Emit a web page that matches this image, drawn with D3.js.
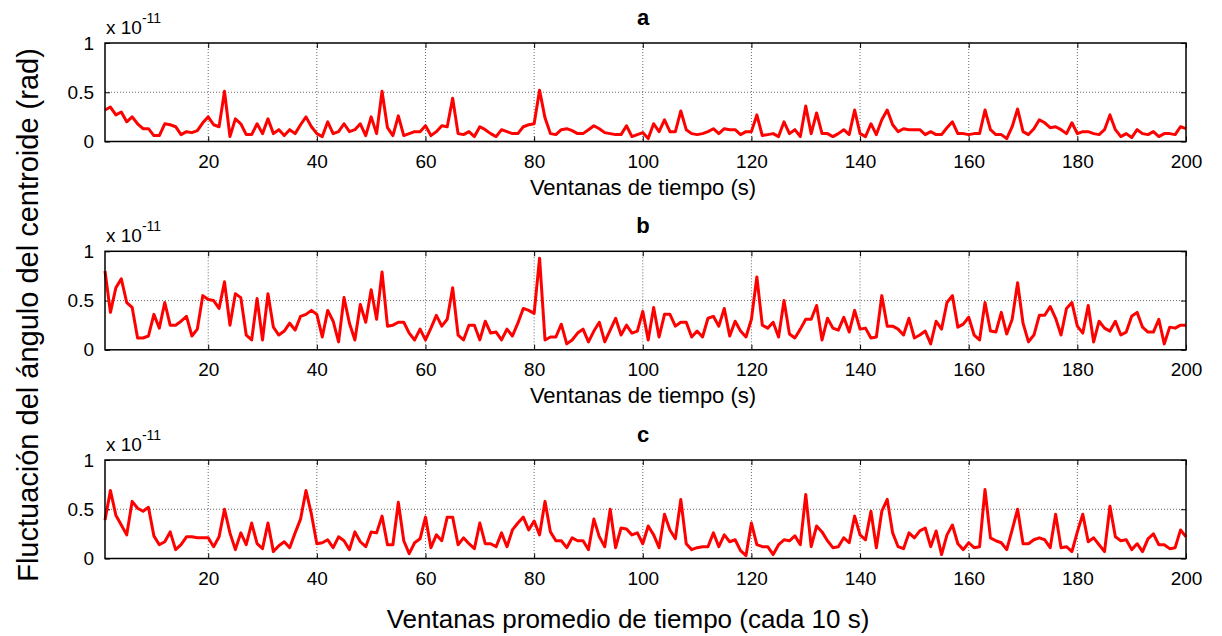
<!DOCTYPE html>
<html>
<head>
<meta charset="utf-8">
<script src="https://cdn.jsdelivr.net/npm/d3@7"></script>
<style>
  html, body { margin: 0; padding: 0; background: #fff; }
  svg { display: block; font-family: "Liberation Sans", Arial, sans-serif; }
</style>
</head>
<body>
<div id="chart"></div>
<script>
// Serie a (valores x 1e-11 rad)
const aValues = [
  0.32,0.35,0.27,0.30,0.20,0.25,0.18,0.13,0.13,0.06,
  0.06,0.18,0.17,0.15,0.07,0.10,0.09,0.11,0.19,0.25,
  0.17,0.15,0.51,0.05,0.23,0.18,0.07,0.07,0.18,0.08,
  0.23,0.08,0.12,0.06,0.12,0.08,0.17,0.25,0.15,0.08,
  0.05,0.20,0.08,0.10,0.18,0.10,0.12,0.18,0.06,0.25,
  0.08,0.51,0.14,0.06,0.26,0.06,0.08,0.10,0.10,0.16,
  0.06,0.10,0.16,0.15,0.44,0.08,0.07,0.10,0.05,0.15,
  0.12,0.08,0.05,0.12,0.10,0.08,0.08,0.15,0.17,0.18,
  0.52,0.24,0.08,0.07,0.12,0.13,0.11,0.08,0.08,0.12,
  0.16,0.13,0.09,0.08,0.07,0.07,0.16,0.05,0.07,0.09,
  0.03,0.18,0.10,0.22,0.10,0.10,0.31,0.12,0.08,0.07,
  0.08,0.10,0.13,0.08,0.13,0.12,0.12,0.07,0.10,0.10,
  0.27,0.06,0.07,0.08,0.05,0.20,0.08,0.12,0.05,0.36,
  0.08,0.29,0.08,0.08,0.05,0.08,0.12,0.07,0.32,0.08,
  0.05,0.18,0.07,0.22,0.32,0.17,0.10,0.13,0.12,0.12,
  0.12,0.07,0.10,0.07,0.07,0.14,0.20,0.08,0.08,0.07,
  0.08,0.08,0.32,0.12,0.07,0.07,0.03,0.15,0.33,0.10,
  0.07,0.13,0.22,0.19,0.14,0.15,0.12,0.08,0.19,0.08,
  0.10,0.10,0.08,0.07,0.12,0.27,0.12,0.05,0.08,0.04,
  0.12,0.08,0.07,0.10,0.05,0.08,0.08,0.07,0.15,0.13
];

// Serie b
const bValues = [
  0.80,0.38,0.63,0.72,0.48,0.43,0.12,0.12,0.14,0.36,
  0.22,0.48,0.25,0.25,0.29,0.34,0.14,0.21,0.55,0.51,
  0.50,0.42,0.69,0.25,0.57,0.53,0.15,0.10,0.52,0.10,
  0.57,0.23,0.15,0.19,0.27,0.20,0.34,0.36,0.40,0.36,
  0.13,0.40,0.29,0.08,0.53,0.27,0.10,0.46,0.28,0.61,
  0.31,0.79,0.24,0.25,0.28,0.28,0.17,0.10,0.21,0.10,
  0.22,0.35,0.24,0.31,0.63,0.15,0.10,0.25,0.25,0.10,
  0.29,0.17,0.18,0.10,0.21,0.14,0.27,0.42,0.40,0.37,
  0.93,0.10,0.13,0.13,0.26,0.06,0.10,0.17,0.21,0.08,
  0.19,0.28,0.08,0.20,0.32,0.15,0.25,0.17,0.19,0.39,
  0.10,0.43,0.13,0.36,0.36,0.24,0.28,0.28,0.13,0.19,
  0.13,0.32,0.34,0.24,0.42,0.14,0.29,0.19,0.13,0.31,
  0.74,0.25,0.22,0.28,0.13,0.50,0.16,0.12,0.21,0.31,
  0.31,0.45,0.10,0.32,0.22,0.20,0.33,0.18,0.40,0.21,
  0.22,0.12,0.13,0.55,0.24,0.24,0.21,0.15,0.32,0.12,
  0.15,0.19,0.06,0.29,0.21,0.48,0.55,0.23,0.26,0.33,
  0.15,0.10,0.48,0.19,0.18,0.38,0.16,0.31,0.68,0.27,
  0.08,0.15,0.35,0.35,0.44,0.32,0.15,0.42,0.48,0.24,
  0.17,0.45,0.08,0.29,0.22,0.19,0.29,0.15,0.18,0.34,
  0.38,0.23,0.18,0.18,0.31,0.06,0.23,0.22,0.25,0.25
];

// Serie c
const cValues = [
  0.39,0.69,0.44,0.34,0.24,0.58,0.51,0.48,0.52,0.23,
  0.14,0.17,0.27,0.09,0.14,0.22,0.22,0.21,0.21,0.21,
  0.12,0.22,0.50,0.26,0.09,0.26,0.14,0.36,0.15,0.10,
  0.36,0.07,0.13,0.17,0.11,0.26,0.40,0.69,0.45,0.15,
  0.16,0.19,0.11,0.22,0.18,0.09,0.27,0.17,0.12,0.27,
  0.26,0.43,0.14,0.14,0.57,0.18,0.05,0.16,0.20,0.42,
  0.11,0.24,0.18,0.42,0.42,0.14,0.21,0.15,0.10,0.36,
  0.15,0.15,0.12,0.26,0.12,0.29,0.36,0.42,0.29,0.38,
  0.24,0.58,0.27,0.18,0.18,0.11,0.21,0.18,0.18,0.09,
  0.40,0.22,0.12,0.50,0.11,0.31,0.30,0.24,0.26,0.15,
  0.33,0.24,0.11,0.45,0.29,0.20,0.60,0.15,0.09,0.11,
  0.12,0.12,0.26,0.12,0.24,0.17,0.19,0.08,0.03,0.36,
  0.14,0.12,0.12,0.04,0.14,0.19,0.18,0.23,0.14,0.65,
  0.12,0.33,0.27,0.18,0.11,0.12,0.21,0.16,0.43,0.24,
  0.19,0.48,0.11,0.48,0.60,0.26,0.12,0.10,0.26,0.21,
  0.28,0.31,0.12,0.28,0.04,0.24,0.34,0.15,0.09,0.16,
  0.11,0.12,0.70,0.21,0.18,0.16,0.09,0.29,0.50,0.15,
  0.15,0.19,0.21,0.19,0.11,0.45,0.11,0.12,0.07,0.27,
  0.45,0.17,0.21,0.14,0.07,0.53,0.22,0.18,0.19,0.09,
  0.15,0.07,0.20,0.25,0.14,0.14,0.10,0.11,0.29,0.22
];

const panelTitles = ["a", "b", "c"];
const xTicks = [20, 40, 60, 80, 100, 120, 140, 160, 180, 200];
const yTicks = [0, 0.5, 1];
const subXLabel = "Ventanas de tiempo (s)";
const bottomLabel = "Ventanas promedio de tiempo (cada 10 s)";
const yLabel = "Fluctuación del ángulo del centroide (rad)";

const W = 1222, H = 636;
const left = 105, right = 1186;
const plotH = 98.5;
const tops = [43, 251.3, 460];

const svg = d3.select("#chart").append("svg")
  .attr("width", W).attr("height", H);

// X-skala fælles for alle paneler
const x = d3.scaleLinear().domain([1, 200]).range([left, right]);

[aValues, bValues, cValues].forEach((vals, i) => {
  const top = tops[i];
  const y = d3.scaleLinear().domain([0, 1]).range([top + plotH, top]);
  const g = svg.append("g");

  // gitterlinjer (prikket)
  g.append("g").selectAll("line").data(xTicks.filter(t => t < 200)).join("line")
    .attr("x1", d => x(d)).attr("x2", d => x(d))
    .attr("y1", top).attr("y2", top + plotH)
    .attr("stroke", "#444").attr("stroke-width", 0.8).attr("stroke-dasharray", "1,2");
  g.append("line")
    .attr("x1", left).attr("x2", right)
    .attr("y1", y(0.5)).attr("y2", y(0.5))
    .attr("stroke", "#444").attr("stroke-width", 0.8).attr("stroke-dasharray", "1,2");

  // akser
  const xb = g.append("g").attr("transform", `translate(0,${top + plotH})`)
    .call(d3.axisBottom(x).tickValues(xTicks).tickSize(-5).tickPadding(13).tickSizeOuter(0));
  const xt = g.append("g").attr("transform", `translate(0,${top})`)
    .call(d3.axisTop(x).tickValues(xTicks).tickSize(-5).tickFormat("").tickSizeOuter(0));
  const yl = g.append("g").attr("transform", `translate(${left},0)`)
    .call(d3.axisLeft(y).tickValues(yTicks).tickSize(-5).tickPadding(11).tickFormat(d => d === 0.5 ? "0.5" : d).tickSizeOuter(0));
  const yr = g.append("g").attr("transform", `translate(${right},0)`)
    .call(d3.axisRight(y).tickValues(yTicks).tickSize(-5).tickFormat("").tickSizeOuter(0));
  [xb, xt, yl, yr].forEach(a => {
    a.select(".domain").remove();
    a.selectAll("line").attr("stroke", "#000").attr("stroke-width", 1);
    a.selectAll("text").style("font-size", "19px").attr("fill", "#000")
      .style("font-family", "'Liberation Sans', Arial, sans-serif");
  });

  // linje
  g.append("path")
    .datum(vals)
    .attr("fill", "none")
    .attr("stroke", "#ff0000")
    .attr("stroke-width", 3)
    .attr("stroke-linejoin", "round")
    .attr("d", d3.line().x((d, j) => x(j + 1)).y(d => y(d)));

  // ramme
  g.append("rect")
    .attr("x", left).attr("y", top)
    .attr("width", right - left).attr("height", plotH)
    .attr("fill", "none").attr("stroke", "#000").attr("stroke-width", 1.5);

  // eksponent
  const ex = g.append("text").attr("x", left + 1).attr("y", top - 9)
    .style("font-size", "19px");
  ex.append("tspan").text("x 10");
  ex.append("tspan").attr("dy", -11).style("font-size", "14px").text("-11");

  // titel
  g.append("text").attr("x", 643).attr("y", top - 18)
    .attr("text-anchor", "middle")
    .style("font-size", "22px").style("font-weight", "bold")
    .text(panelTitles[i]);

  if (i < 2) {
    g.append("text").attr("x", 643).attr("y", top + plotH + 53)
      .attr("text-anchor", "middle").style("font-size", "22px")
      .text(subXLabel);
  }
});

svg.append("text")
  .attr("x", 628).attr("y", 628)
  .attr("text-anchor", "middle").style("font-size", "26px")
  .text(bottomLabel);

svg.append("text")
  .attr("transform", "translate(38,315) rotate(-90)")
  .attr("text-anchor", "middle").style("font-size", "29px")
  .text(yLabel);
</script>
</body>
</html>
